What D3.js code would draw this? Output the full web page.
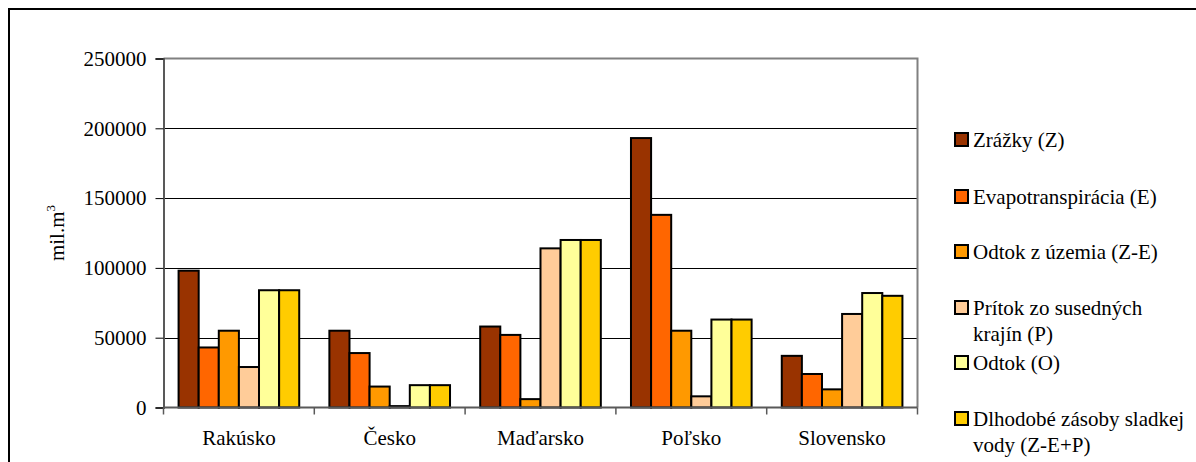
<!DOCTYPE html>
<html>
<head>
<meta charset="utf-8">
<script src="https://cdn.jsdelivr.net/npm/d3@7"></script>
</head>
<body style="margin:0;padding:0;background:#fff">
<script>
// Krajiny (kategórie na osi x)
const categories = ["Rakúsko", "Česko", "Maďarsko", "Poľsko", "Slovensko"];

// Názvy radov v legende (jeden alebo dva riadky)
const seriesNames = [
  ["Zrážky (Z)"],
  ["Evapotranspirácia (E)"],
  ["Odtok z územia (Z-E)"],
  ["Prítok zo susedných", "krajín (P)"],
  ["Odtok (O)"],
  ["Dlhodobé zásoby sladkej", "vody (Z-E+P)"]
];
const seriesColors = ["#993300", "#FF6600", "#FF9900", "#FFCC99", "#FFFF99", "#FFCC00"];

// Hodnoty v mil. m3, poradie podľa krajín
const zrazky       = [98000, 55000, 58000, 193000, 37000];
const evapo        = [43000, 39000, 52000, 138000, 24000];
const odtokUzemia  = [55000, 15000, 6000, 55000, 13000];
const pritok       = [29000, 1000, 114000, 8000, 67000];
const odtok        = [84000, 16000, 120000, 63000, 82000];
const zasoby       = [84000, 16000, 120000, 63000, 80000];
const seriesValues = [zrazky, evapo, odtokUzemia, pritok, odtok, zasoby];

const yTicks = [0, 50000, 100000, 150000, 200000, 250000];

const FONT = "Liberation Serif";
const FS = 21;
const svg = d3.select("body").append("svg")
  .attr("width", 1196).attr("height", 462)
  .style("display", "block");

// písmo pre všetky texty
function serif(sel, size) {
  return sel.style("font-family", `'${FONT}'`).attr("font-size", size || FS).attr("fill", "#000");
}

// vonkajší rámček
svg.append("rect")
  .attr("x", 9).attr("y", 9)
  .attr("width", 1196).attr("height", 470)
  .attr("fill", "none").attr("stroke", "#000").attr("stroke-width", 2);

const plot = { left: 163.5, right: 917.5, top: 58.5, bottom: 407.5 };

const x = d3.scaleBand()
  .domain(categories)
  .range([plot.left, plot.right])
  .paddingInner(0.2)
  .paddingOuter(0.1);

const xs = d3.scaleBand()
  .domain(d3.range(seriesValues.length))
  .range([0, x.bandwidth()])
  .padding(0);

const y = d3.scaleLinear()
  .domain([0, 250000])
  .range([plot.bottom, plot.top]);

// mriežka
svg.append("g")
  .selectAll("line")
  .data(yTicks.filter(t => t > 0 && t < 250000))
  .join("line")
  .attr("x1", plot.left).attr("x2", plot.right)
  .attr("y1", d => Math.round(y(d)) + 0.5).attr("y2", d => Math.round(y(d)) + 0.5)
  .attr("stroke", "#000").attr("stroke-width", 1);

// rámček plochy grafu (hore a vpravo)
svg.append("path")
  .attr("d", `M${plot.left},${plot.top}H${plot.right}V${plot.bottom}`)
  .attr("fill", "none").attr("stroke", "#808080").attr("stroke-width", 2);

// stĺpce
const groups = svg.append("g")
  .selectAll("g")
  .data(categories)
  .join("g")
  .attr("transform", d => `translate(${x(d)},0)`);

groups.selectAll("rect")
  .data((c, ci) => seriesValues.map((vals, si) => ({ si, v: vals[ci] })))
  .join("rect")
  .attr("x", d => xs(d.si))
  .attr("y", d => y(d.v))
  .attr("width", xs.bandwidth())
  .attr("height", d => y(0) - y(d.v))
  .attr("fill", d => seriesColors[d.si])
  .attr("stroke", "#000")
  .attr("stroke-width", 2);

// os y
const yAxis = svg.append("g")
  .attr("transform", `translate(${plot.left},0)`)
  .call(d3.axisLeft(y).tickValues(yTicks).tickFormat(d3.format("d")).tickSize(8).tickPadding(9));
yAxis.attr("font-family", null).attr("font-size", null);
yAxis.select(".domain").attr("stroke", "#595959").attr("stroke-width", 2);
yAxis.selectAll(".tick line").attr("stroke", "#000");
serif(yAxis.selectAll(".tick text"));

// os x
const xAxisG = svg.append("g");
xAxisG.append("line")
  .attr("x1", plot.left).attr("x2", plot.right)
  .attr("y1", plot.bottom).attr("y2", plot.bottom)
  .attr("stroke", "#595959").attr("stroke-width", 2);
const boundaries = d3.range(categories.length + 1).map(i =>
  i === categories.length ? plot.right : plot.left + i * x.step());
xAxisG.selectAll("line.tk")
  .data(boundaries)
  .join("line")
  .attr("class", "tk")
  .attr("x1", d => d).attr("x2", d => d)
  .attr("y1", plot.bottom).attr("y2", plot.bottom + 7)
  .attr("stroke", "#595959").attr("stroke-width", 1.5);
serif(xAxisG.selectAll("text")
  .data(categories)
  .join("text")
  .attr("x", d => x(d) + x.bandwidth() / 2)
  .attr("y", 445)
  .attr("text-anchor", "middle")
  .text(d => d));

// názov osi y
const yTitle = serif(svg.append("text")
  .attr("transform", "translate(64,233) rotate(-90)")
  .attr("text-anchor", "middle"));
yTitle.append("tspan").text("mil.m");
yTitle.append("tspan").attr("font-size", 13).attr("dy", -9).text("3");

// legenda
const legendRows = [140, 197, 252, 308, 363, 419];
const legend = svg.append("g");
seriesNames.forEach((lines, i) => {
  const cy = legendRows[i];
  legend.append("rect")
    .attr("x", 955).attr("y", cy - 7)
    .attr("width", 13).attr("height", 13)
    .attr("fill", seriesColors[i])
    .attr("stroke", "#000").attr("stroke-width", 2);
  lines.forEach((t, li) => {
    serif(legend.append("text")
      .attr("x", 973)
      .attr("y", cy + 7 + li * 25.5)
      .text(t));
  });
});
</script>
</body>
</html>
